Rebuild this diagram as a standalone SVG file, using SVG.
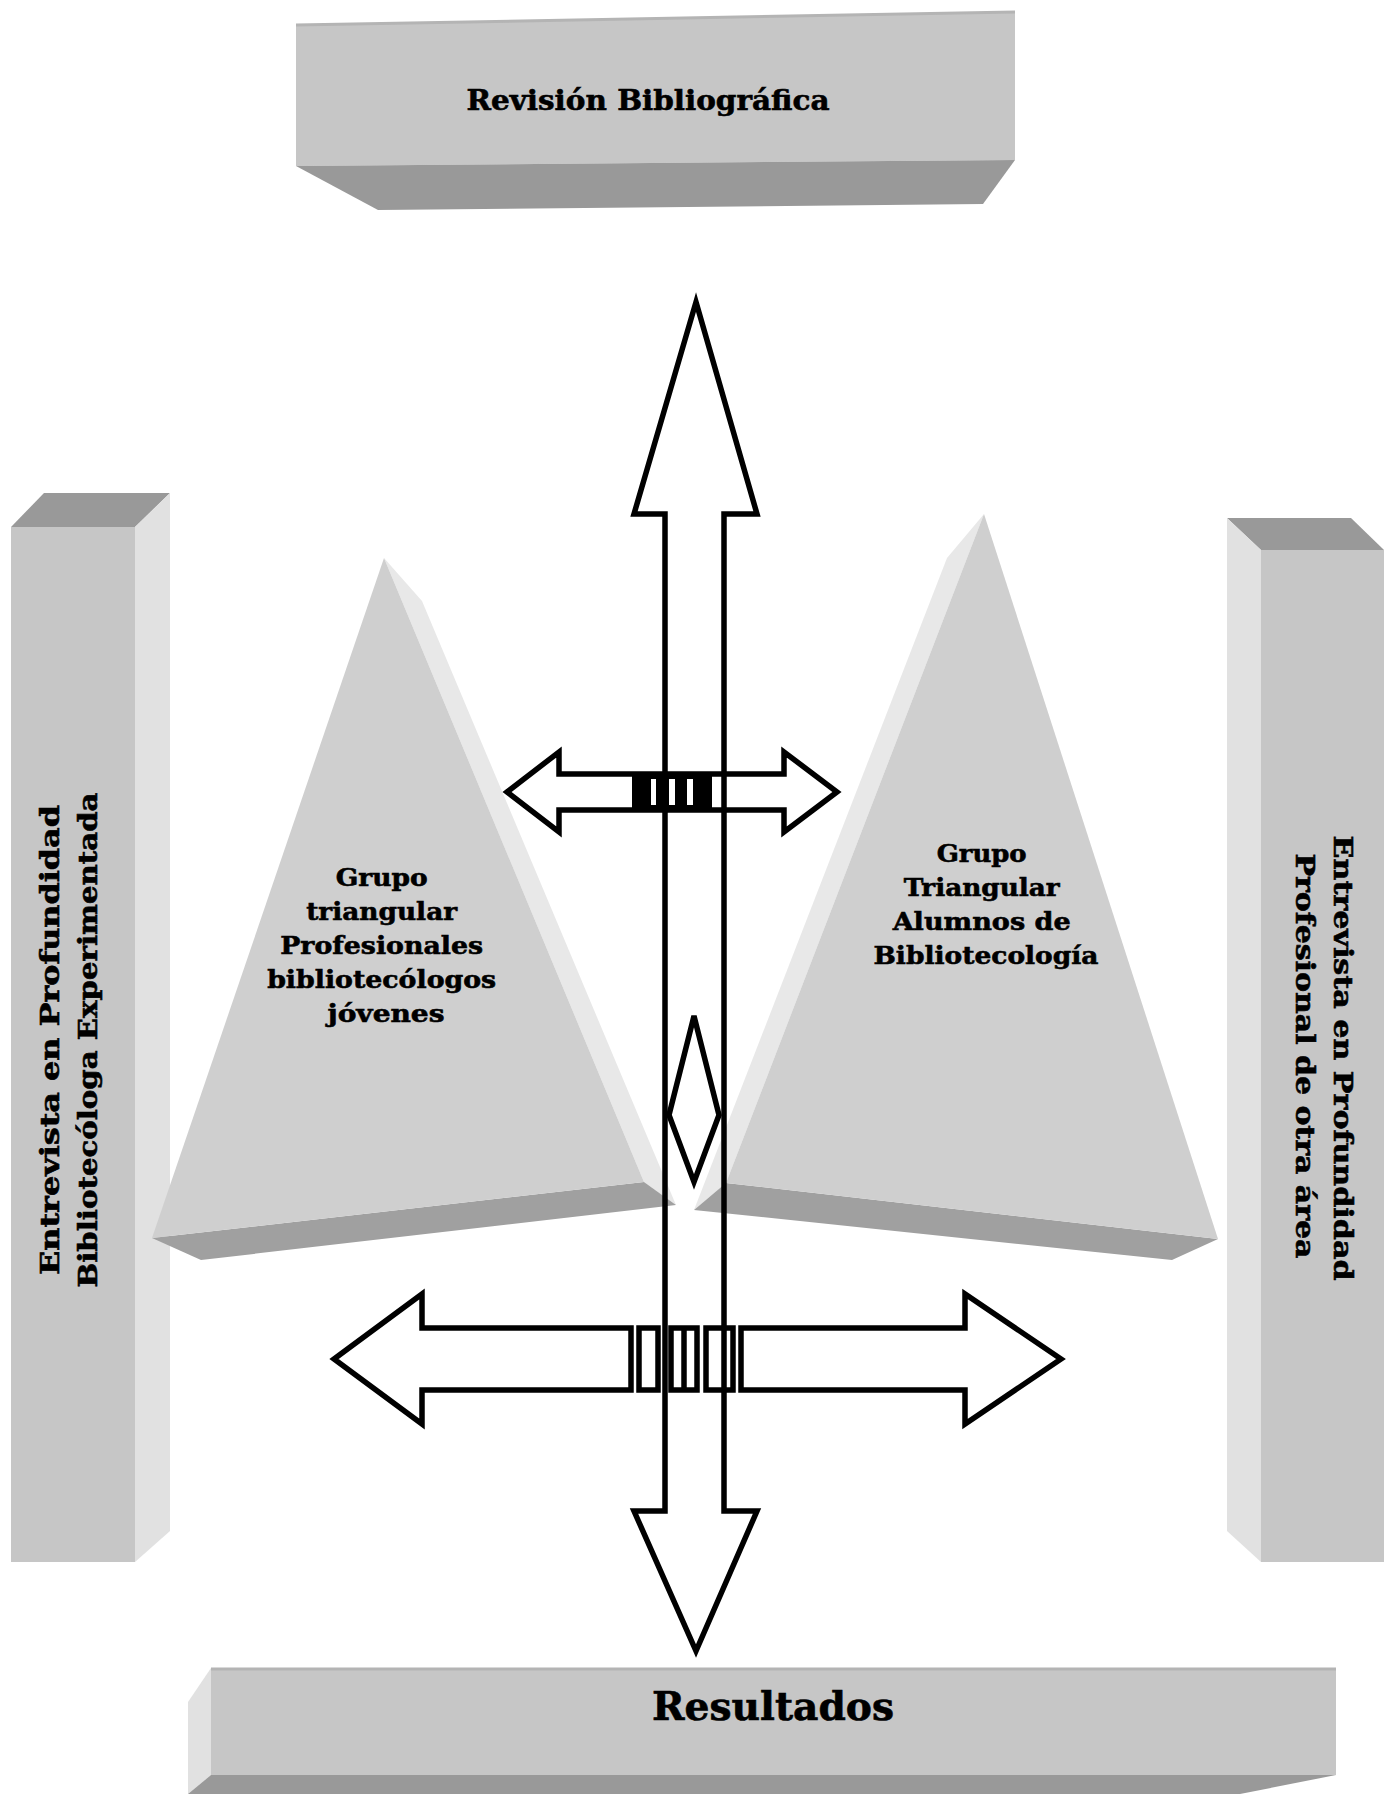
<svg xmlns="http://www.w3.org/2000/svg" width="1392" height="1794" viewBox="0 0 1392 1794">
<style>
  .t { font-family: "DejaVu Serif", "Liberation Serif", serif; font-weight: bold; fill: #000; stroke: #000; stroke-width: 0.6; }
  .ln { fill: none; stroke: #000; stroke-width: 5.5; stroke-linejoin: miter; }
  .lw { fill: #fff; stroke: #000; stroke-width: 5.5; stroke-linejoin: miter; }
  .front { fill: #c6c6c6; }
  .dark { fill: #999999; }
  .light { fill: #e1e1e1; }
  .tri { fill: #cfcfcf; }
  .tril { fill: #e8e8e8; }
  .trid { fill: #a0a0a0; }
</style>
<rect x="0" y="0" width="1392" height="1794" fill="#ffffff"/>

<g id="revision">
  <polygon class="front" points="296,25 1015,12 1015,160 296,166"/>
  <polygon class="dark" points="296,166 1015,160 983,204 378,210"/>
  <line x1="296" y1="25" x2="1015" y2="12" stroke="#b4b4b4" stroke-width="3"/>
  <text class="t" x="648" y="110" font-size="28" text-anchor="middle" textLength="363" lengthAdjust="spacingAndGlyphs">Revisión Bibliográfica</text>
</g>

<g id="entrevista-izq">
  <polygon class="dark" points="11,527 44,493 170,493 135,527"/>
  <polygon class="light" points="135,527 170,493 170,1531 135,1562"/>
  <rect class="front" x="11" y="527" width="124" height="1035"/>
  <g transform="rotate(-90 0 0)">
    <text class="t" x="-1040" y="59" font-size="26" text-anchor="middle" textLength="470" lengthAdjust="spacingAndGlyphs">Entrevista en Profundidad</text>
    <text class="t" x="-1040" y="97" font-size="26" text-anchor="middle" textLength="495" lengthAdjust="spacingAndGlyphs">Bibliotecóloga Experimentada</text>
  </g>
</g>

<g id="entrevista-der">
  <polygon class="dark" points="1227,518 1351,518 1384,550 1261,550"/>
  <polygon class="light" points="1227,518 1261,550 1261,1562 1227,1531"/>
  <rect class="front" x="1261" y="550" width="123" height="1012"/>
  <g transform="rotate(90 0 0)">
    <text class="t" x="1058" y="-1334" font-size="26" text-anchor="middle" textLength="445" lengthAdjust="spacingAndGlyphs">Entrevista en Profundidad</text>
    <text class="t" x="1056" y="-1296" font-size="26" text-anchor="middle" textLength="405" lengthAdjust="spacingAndGlyphs">Profesional de otra área</text>
  </g>
</g>

<g id="resultados">
  <polygon class="light" points="211,1668 188,1702 188,1794 211,1775"/>
  <rect class="front" x="211" y="1668" width="1125" height="107"/>
  <polygon class="dark" points="211,1775 1336,1775 1240,1794 188,1794"/>
  <line x1="211" y1="1669" x2="1336" y2="1669" stroke="#b4b4b4" stroke-width="3"/>
  <text class="t" x="773" y="1720" font-size="39" text-anchor="middle" textLength="242" lengthAdjust="spacingAndGlyphs">Resultados</text>
</g>

<g id="grupo-profesionales">
  <polygon class="tril" points="384,558 422,601 676,1205 644,1182"/>
  <polygon class="trid" points="152,1238 644,1182 676,1205 201,1260"/>
  <polygon class="tri" points="384,558 152,1238 644,1182"/>
  <text class="t" font-size="25" text-anchor="middle">
    <tspan x="386" y="886" textLength="92" lengthAdjust="spacingAndGlyphs">Grupo</tspan>
    <tspan x="386" y="920" textLength="151" lengthAdjust="spacingAndGlyphs">triangular</tspan>
    <tspan x="386" y="954" textLength="203" lengthAdjust="spacingAndGlyphs">Profesionales</tspan>
    <tspan x="386" y="988" textLength="229" lengthAdjust="spacingAndGlyphs">bibliotecólogos</tspan>
    <tspan x="386" y="1022" textLength="117" lengthAdjust="spacingAndGlyphs">jóvenes</tspan>
  </text>
</g>

<g id="grupo-alumnos">
  <polygon class="tril" points="984,514 947,558 694,1210 726,1183"/>
  <polygon class="trid" points="726,1183 1218,1239 1172,1260 694,1210"/>
  <polygon class="tri" points="984,514 726,1183 1218,1239"/>
  <text class="t" font-size="25" text-anchor="middle">
    <tspan x="986" y="862" textLength="90" lengthAdjust="spacingAndGlyphs">Grupo</tspan>
    <tspan x="986" y="896" textLength="156" lengthAdjust="spacingAndGlyphs">Triangular</tspan>
    <tspan x="986" y="930" textLength="178" lengthAdjust="spacingAndGlyphs">Alumnos de</tspan>
    <tspan x="986" y="964" textLength="225" lengthAdjust="spacingAndGlyphs">Bibliotecología</tspan>
  </text>
</g>

<g id="connectors">
  <g id="flecha-horizontal-superior">
    <polygon class="lw" points="507,792 559,752 559,774 784,774 784,752 837,792 784,832 784,810 559,810 559,832"/>
    <rect x="632" y="772" width="80" height="40" fill="#000"/>
    <rect x="651" y="779" width="5" height="26" fill="#fff"/>
    <rect x="669" y="779" width="6" height="26" fill="#fff"/>
    <rect x="687" y="779" width="6" height="26" fill="#fff"/>
  </g>
  <g id="flecha-horizontal-inferior">
    <polygon class="lw" points="334,1359 422,1294 422,1328 631,1328 631,1390 422,1390 422,1424"/>
    <polygon class="lw" points="741,1328 965,1328 965,1294 1061,1359 965,1424 965,1390 741,1390"/>
    <rect class="lw" x="639" y="1328" width="19" height="62"/>
    <rect class="lw" x="671" y="1328" width="26" height="62"/>
    <line class="ln" x1="684" y1="1328" x2="684" y2="1390" stroke-width="4"/>
    <rect class="lw" x="706" y="1328" width="27" height="62"/>
  </g>
  <polygon id="flecha-vertical" class="ln" points="696,302 757,514 724,514 724,1511 757,1511 696,1651 634,1511 665,1511 665,514 634,514"/>
  <polygon id="rombo" class="ln" points="694,1016 719,1115 694,1182 669,1115"/>
</g>
</svg>
